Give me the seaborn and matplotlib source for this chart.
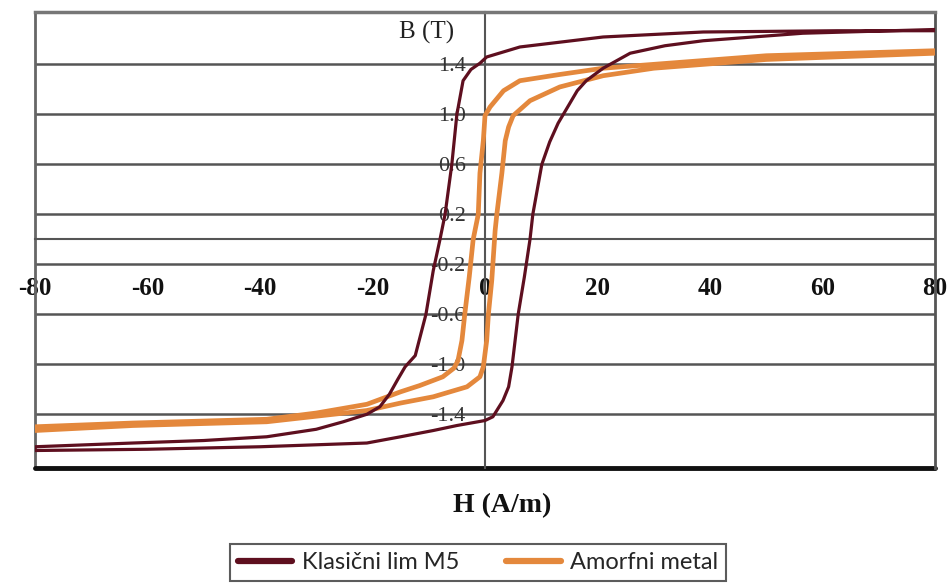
"""B-H hysteresis loops: classic M5 sheet vs amorphous metal."""
import matplotlib
matplotlib.use("Agg")
import matplotlib.pyplot as plt
import seaborn as sns

# --- data ---
# Klasicni lim M5: descending branch (H from +80 to -80), then ascending
m5_desc_h = [80, 62.6, 38.8, 21, 6.2, 0.3, -0.9, -2.5, -3.9, -5,
             -5.9, -7.1, -8, -9.2, -10.5, -12.4, -14.2, -15.5, -17, -18.7,
             -21, -25.2, -30, -38.8, -50, -62.6, -80]
m5_desc_b = [1.67, 1.67, 1.66, 1.62, 1.54, 1.46, 1.41, 1.36, 1.27, 1.0,
             0.6, 0.2, 0.0, -0.25, -0.6, -0.93, -1.02, -1.12, -1.24, -1.34,
             -1.40, -1.46, -1.52, -1.58, -1.61, -1.63, -1.66]
m5_asc_h = [-80, -60, -40, -21, -15, -9.2, -5, 0, 1.4, 3.2,
            4.2, 4.8, 5.9, 7.0, 8.0, 8.5, 10.1, 11.5, 13, 16.4,
            18, 21, 25.8, 32, 38.8, 56.5, 80]
m5_asc_b = [-1.69, -1.68, -1.66, -1.63, -1.58, -1.53, -1.49, -1.45, -1.42, -1.29,
            -1.18, -1.02, -0.6, -0.3, 0.0, 0.2, 0.6, 0.78, 0.93, 1.19,
            1.27, 1.37, 1.49, 1.55, 1.59, 1.65, 1.68]

# Amorfni metal
amo_desc_h = [80, 50, 21, 13.3, 6.2, 3.3, 0.9, 0, -0.3, -0.9,
              -1.2, -2.1, -2.8, -3.6, -4.1, -4.8, -5.5, -7.5, -11.6, -15,
              -21, -30, -38.8, -62.6, -80]
amo_desc_b = [1.51, 1.47, 1.37, 1.32, 1.27, 1.19, 1.06, 0.99, 0.79, 0.53,
              0.2, 0.0, -0.3, -0.6, -0.81, -0.97, -1.03, -1.1, -1.17, -1.22,
              -1.32, -1.39, -1.44, -1.47, -1.50]
amo_asc_h = [-80, -62.6, -38.8, -21, -15, -9.2, -3.2, -0.9, -0.3, 0.3,
             0.6, 1.2, 1.8, 2.1, 3.0, 3.6, 4.2, 5.0, 8.0, 13.3,
             21, 30, 50, 80]
amo_asc_b = [-1.53, -1.49, -1.46, -1.37, -1.31, -1.26, -1.18, -1.1, -1.02, -0.81,
             -0.6, -0.33, 0.07, 0.2, 0.53, 0.79, 0.9, 0.99, 1.11, 1.22,
             1.31, 1.37, 1.44, 1.49]

x_ticks = [-80, -60, -40, -20, 0, 20, 40, 60, 80]
y_ticks = [1.4, 1.0, 0.6, 0.2, -0.2, -0.6, -1.0, -1.4]
y_tick_labels = ["1.4", "1.0", "0.6", "0.2", "-0.2", "-0.6", "-1.0", "-1.4"]

C_M5 = "#5e0f1f"
C_AMO = "#e4883c"

sns.set_style("white")
plt.rcParams["font.family"] = ["Liberation Serif", "DejaVu Serif"]

fig = plt.figure(figsize=(9.51, 5.88), dpi=100)
ax = fig.add_axes([35 / 951, 120 / 588, 900 / 951, 456 / 588])

# closed loops: descending branch followed by ascending branch
sns.lineplot(x=m5_desc_h + m5_asc_h, y=m5_desc_b + m5_asc_b, sort=False,
             estimator=None, color=C_M5, lw=2.3, label="Klasični lim M5", ax=ax,
             zorder=4)
sns.lineplot(x=amo_desc_h + amo_asc_h, y=amo_desc_b + amo_asc_b, sort=False,
             estimator=None, color=C_AMO, lw=3.4, label="Amorfni metal", ax=ax,
             zorder=3)

ax.set_xlim(-80, 80)
ax.set_ylim(-1.83, 1.82)
ax.set_xlabel("")
ax.set_ylabel("")

ax.tick_params(axis="y", length=0, pad=14, labelsize=16, labelcolor="#333333")
ax.tick_params(axis="x", length=3, width=1, direction="out", color="#555555",
               pad=24, labelsize=18, labelcolor="#111111")

ax.set_xticks(x_ticks)
ax.set_xticklabels([str(v) for v in x_ticks])
ax.set_yticks(y_ticks)
ax.set_yticklabels(y_tick_labels)
ax.yaxis.grid(True, color="#555555", lw=1.8)
ax.xaxis.grid(False)
ax.set_axisbelow(True)

# axes through the origin, outer frame kept as a box
ax.spines["left"].set_position(("data", 0))
ax.spines["bottom"].set_position(("data", 0))
ax.spines["left"].set_color("#555555")
ax.spines["left"].set_linewidth(1.5)
ax.spines["bottom"].set_color("#555555")
ax.spines["bottom"].set_linewidth(1.5)
ax.spines["top"].set_color("#777777")
ax.spines["top"].set_linewidth(2.5)
ax.spines["right"].set_color("#555555")
ax.spines["right"].set_linewidth(2)
ax.axvline(-80, color="#666666", lw=2, clip_on=False)
ax.axhline(-1.83, color="#111111", lw=3.5, clip_on=False)

fig.text(427 / 951, 1 - 32 / 588, "B (T)", ha="center", va="center",
         fontsize=18, color="#222222")
fig.text(502 / 951, 1 - 506 / 588, "H (A/m)", ha="center", va="center",
         fontsize=20, fontweight="bold", color="#111111")

leg = ax.legend(loc="center", bbox_to_anchor=(478 / 951, 1 - 562.5 / 588),
                bbox_transform=fig.transFigure, ncol=2, frameon=True,
                fancybox=False, edgecolor="#333333",
                prop={"family": ["Lato", "DejaVu Sans"], "size": 17},
                handlelength=2.3, handletextpad=0.4, columnspacing=2.0,
                borderpad=0.35)
leg.get_frame().set_linewidth(1.5)
for line in leg.get_lines():
    line.set_linewidth(4.5)

# make the x tick labels bold once the ticks exist
fig.canvas.draw()
for lbl in ax.get_xticklabels():
    lbl.set_fontweight("bold")

fig.savefig("out.png", dpi=100)
